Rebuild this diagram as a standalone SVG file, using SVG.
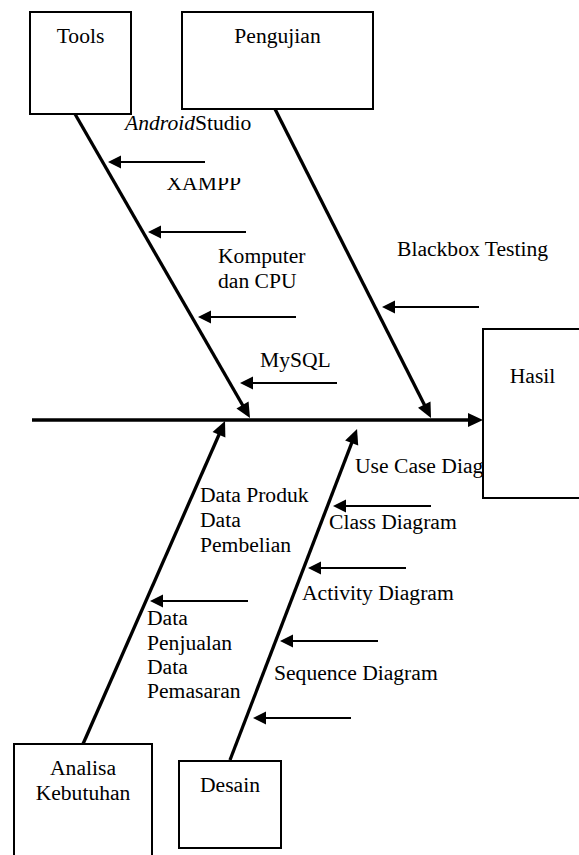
<svg xmlns="http://www.w3.org/2000/svg" width="579" height="855" viewBox="0 0 579 855">
  <style>
    text { font-family: "Liberation Serif", "Times New Roman", serif; font-size: 21.6px; fill: #000; }
    .box { fill: #fff; stroke: #000; stroke-width: 2; }
    .bone { fill: none; stroke: #000; stroke-width: 3.3; marker-end: url(#headLarge); }
    .rib { fill: none; stroke: #000; stroke-width: 2; marker-end: url(#headSmall); }
    .mid { text-anchor: middle; }
  </style>
  <defs>
    <!-- filled arrowheads; ref point sits behind the tip so the line end stays hidden inside the head -->
    <marker id="headLarge" markerUnits="userSpaceOnUse" markerWidth="15" markerHeight="14" refX="9" refY="7" orient="auto" overflow="visible">
      <path d="M0,0 L15,7 L0,14 z" fill="#000"/>
    </marker>
    <marker id="headSmall" markerUnits="userSpaceOnUse" markerWidth="13" markerHeight="13" refX="8" refY="6.5" orient="auto" overflow="visible">
      <path d="M0,0 L13,6.5 L0,13 z" fill="#000"/>
    </marker>
    <clipPath id="xamppClip">
      <rect x="150" y="178" width="120" height="20"/>
    </clipPath>
  </defs>

  <!-- spine, main bones and short ribs -->
  <g id="connectors">
    <path class="bone" d="M32,420 L477,420"/>
    <path class="bone" d="M75,114 L247,412.8"/>
    <path class="bone" d="M275,109 L428.3,412.6"/>
    <path class="bone" d="M83,744 L222.6,426.5"/>
    <path class="bone" d="M230,760 L354.9,434.6"/>

    <!-- Tools ribs -->
    <path class="rib" d="M205,162 L113,162"/>
    <path class="rib" d="M246,232 L153,232"/>
    <path class="rib" d="M296,317 L203,317"/>
    <path class="rib" d="M337,383 L245,383"/>
    <!-- Pengujian rib -->
    <path class="rib" d="M479,307 L387,307"/>
    <!-- Analisa Kebutuhan rib -->
    <path class="rib" d="M248,601 L155,601"/>
    <!-- Desain ribs -->
    <path class="rib" d="M431,506 L338,506"/>
    <path class="rib" d="M406,568 L313,568"/>
    <path class="rib" d="M378,641 L285,641"/>
    <path class="rib" d="M351,718 L258,718"/>
  </g>

  <!-- cause labels -->
  <g id="labels">
    <text x="125" y="130"><tspan font-style="italic">Android</tspan>Studio</text>
    <text x="166.5" y="189.5" clip-path="url(#xamppClip)">XAMPP</text>
    <text x="218" y="263">Komputer</text>
    <text x="218" y="287.5">dan CPU</text>
    <text x="260" y="367">MySQL</text>
    <text x="397" y="256">Blackbox Testing</text>
    <text x="355" y="473">Use Case Diagram</text>
    <text x="329" y="529">Class Diagram</text>
    <text x="302" y="600">Activity Diagram</text>
    <text x="274" y="680">Sequence Diagram</text>
    <text x="200" y="502">Data Produk</text>
    <text x="200" y="527">Data</text>
    <text x="200" y="552">Pembelian</text>
    <text x="147" y="625">Data</text>
    <text x="147" y="649.5">Penjualan</text>
    <text x="147" y="674">Data</text>
    <text x="147" y="698">Pemasaran</text>
  </g>

  <g id="tools">
    <rect class="box" x="30" y="12" width="101" height="102"/>
    <text class="mid" x="80.5" y="43.3">Tools</text>
  </g>
  <g id="pengujian">
    <rect class="box" x="182" y="12" width="191" height="97"/>
    <text class="mid" x="277.5" y="43.3">Pengujian</text>
  </g>
  <g id="hasil">
    <rect class="box" x="483" y="329" width="120" height="169"/>
    <text class="mid" x="532.5" y="383">Hasil</text>
  </g>
  <g id="analisa-kebutuhan">
    <rect class="box" x="14" y="744" width="138" height="130"/>
    <text class="mid" x="83" y="775">Analisa</text>
    <text class="mid" x="83" y="800">Kebutuhan</text>
  </g>
  <g id="desain">
    <rect class="box" x="179" y="761" width="102" height="87"/>
    <text class="mid" x="230" y="792">Desain</text>
  </g>
</svg>
